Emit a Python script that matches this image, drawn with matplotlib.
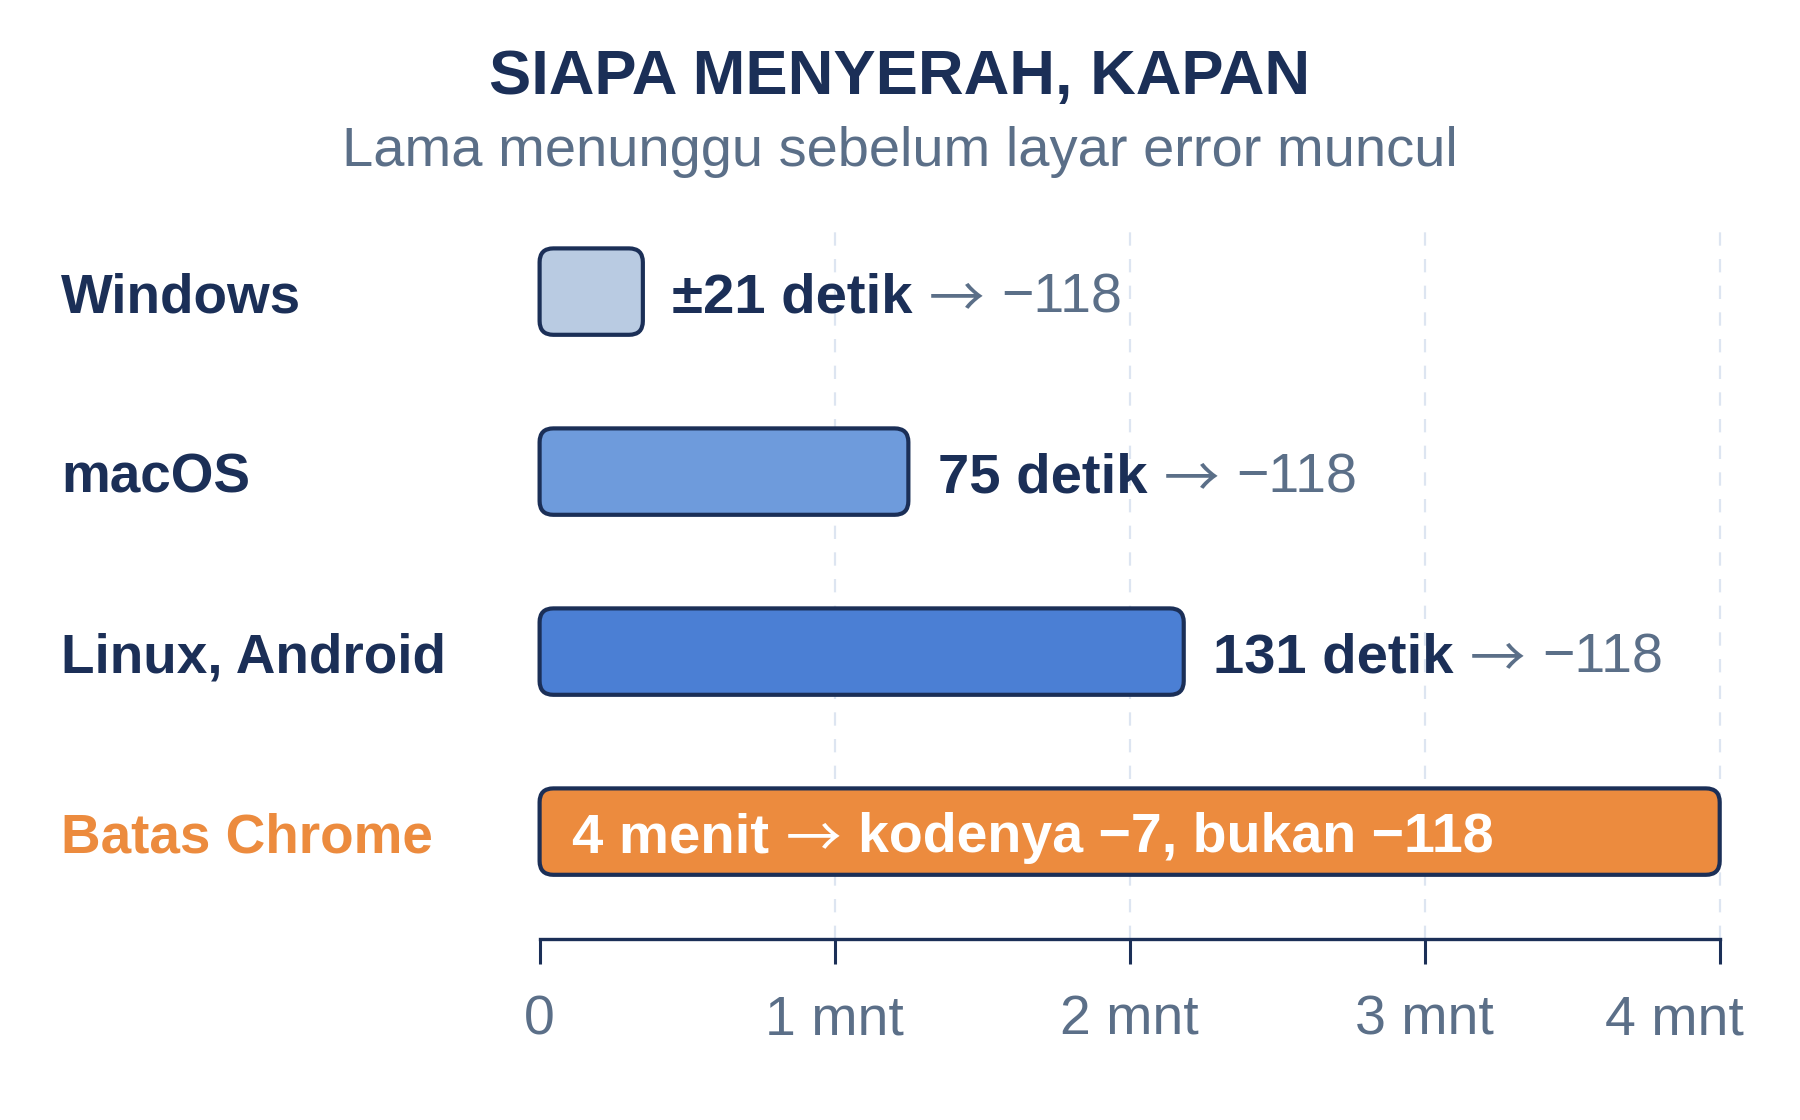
import matplotlib
matplotlib.use("Agg")
import matplotlib.pyplot as plt
from matplotlib.patches import FancyBboxPatch
from matplotlib import transforms

plt.rcParams['font.family'] = ['Liberation Sans', 'DejaVu Sans']
ARROW_FONT = ['Noto Sans CJK JP', 'DejaVu Sans']

# data
categories = ["Windows", "macOS", "Linux, Android", "Batas Chrome"]
seconds = [21, 75, 131, 240]
value_labels = ["±21 detik", "75 detik", "131 detik", None]
value_codes = ["−118", "−118", "−118", None]
chrome_parts = ["4 menit", "kodenya −7, bukan −118"]
tick_values = [0, 60, 120, 180, 240]
tick_labels = ["0", "1 mnt", "2 mnt", "3 mnt", "4 mnt"]

NAVY = "#1b2f57"
GRAY = "#5b6f88"
ORANGE = "#ec8b3e"
fills = ["#b9cbe2", "#6e9bdc", "#4b7fd4", ORANGE]
label_colors = [NAVY, NAVY, NAVY, ORANGE]

W, H = 1800, 1120
fig = plt.figure(figsize=(W / 100, H / 100), dpi=100)
fig.patch.set_facecolor("white")

px_per_s = (1719.7 - 539.6) / 240
x0_px = 539.6 - 1 * px_per_s
x1_px = 539.6 + 241 * px_per_s
top_px, bot_px = 222, 939
ax = fig.add_axes([x0_px / W, 1 - bot_px / H, (x1_px - x0_px) / W, (bot_px - top_px) / H])
ax.set_xlim(-1, 241)
row_px = 180
y_top = (top_px - 291.6) / row_px
y_bot = (bot_px - 291.6) / row_px
ax.set_ylim(y_bot, y_top)

for s in ["top", "right", "left"]:
    ax.spines[s].set_visible(False)
ax.spines["bottom"].set_bounds(0, 240)
ax.spines["bottom"].set_color(NAVY)
ax.spines["bottom"].set_linewidth(2.4)
ax.set_yticks([])
ax.set_xticks(tick_values)
ax.set_xticklabels(tick_labels)
ax.tick_params(axis="x", direction="out", length=18, width=2.2, color=NAVY,
               labelsize=40, labelcolor=GRAY, pad=22)
last = ax.get_xticklabels()[-1]
last.set_transform(last.get_transform()
                   + transforms.ScaledTranslation(-0.45, 0, fig.dpi_scale_trans))

ax.set_axisbelow(True)
ax.grid(axis="x", color="#dde5f1", linewidth=1.6, linestyle=(0, (6, 6)))
ax.get_xgridlines()[0].set_visible(False)

aspect = px_per_s / row_px
bar_h = 0.48
for i, val in enumerate(seconds):
    box = FancyBboxPatch((0, i - bar_h / 2), val, bar_h,
                         boxstyle="round,pad=0,rounding_size=2.8",
                         mutation_aspect=aspect, facecolor=fills[i],
                         edgecolor=NAVY, linewidth=3.0, zorder=3)
    ax.add_patch(box)

# category labels on the left
blend = transforms.blended_transform_factory(fig.transFigure, ax.transData)
for i, cat in enumerate(categories):
    ax.text(61 / W, i + 0.115, cat, transform=blend, ha="left", va="baseline",
            fontsize=39.5, fontweight="bold", color=label_colors[i])


def after(prev, text, y, gap, dy=0, **kw):
    # put a text right after another one on the same baseline
    return ax.annotate(text, xy=(1, y), xycoords=(prev, "data"), xytext=(gap, dy),
                       textcoords="offset points", ha="left", va="baseline",
                       fontsize=40, **kw)


for i, val in enumerate(seconds):
    yb = i + 0.115
    if value_labels[i] is None:
        t = ax.annotate(chrome_parts[0], xy=(0, yb), xytext=(23, 0),
                        textcoords="offset points", ha="left", va="baseline",
                        fontsize=40.5, fontweight="bold", color="white", zorder=4)
        a = after(t, "→", yb, 12, dy=-3, family=ARROW_FONT, color="white", zorder=4)
        after(a, chrome_parts[1], yb, 12, fontweight="bold", color="white", zorder=4)
        continue
    t1 = ax.annotate(value_labels[i], xy=(val, yb), xytext=(21, 0),
                     textcoords="offset points", ha="left", va="baseline",
                     fontsize=40.5, fontweight="bold", color=NAVY)
    a = after(t1, "→", yb, 12, dy=-3, family=ARROW_FONT, color=GRAY)
    after(a, value_codes[i], yb, 12, color=GRAY)

fig.text(0.5, 1 - 94 / H, "SIAPA MENYERAH, KAPAN", ha="center", va="baseline",
         fontsize=45.5, fontweight="bold", color=NAVY)
fig.text(0.5, 1 - 166 / H, "Lama menunggu sebelum layar error muncul",
         ha="center", va="baseline", fontsize=40.4, color=GRAY)

fig.savefig("out.png", dpi=100, facecolor="white")
